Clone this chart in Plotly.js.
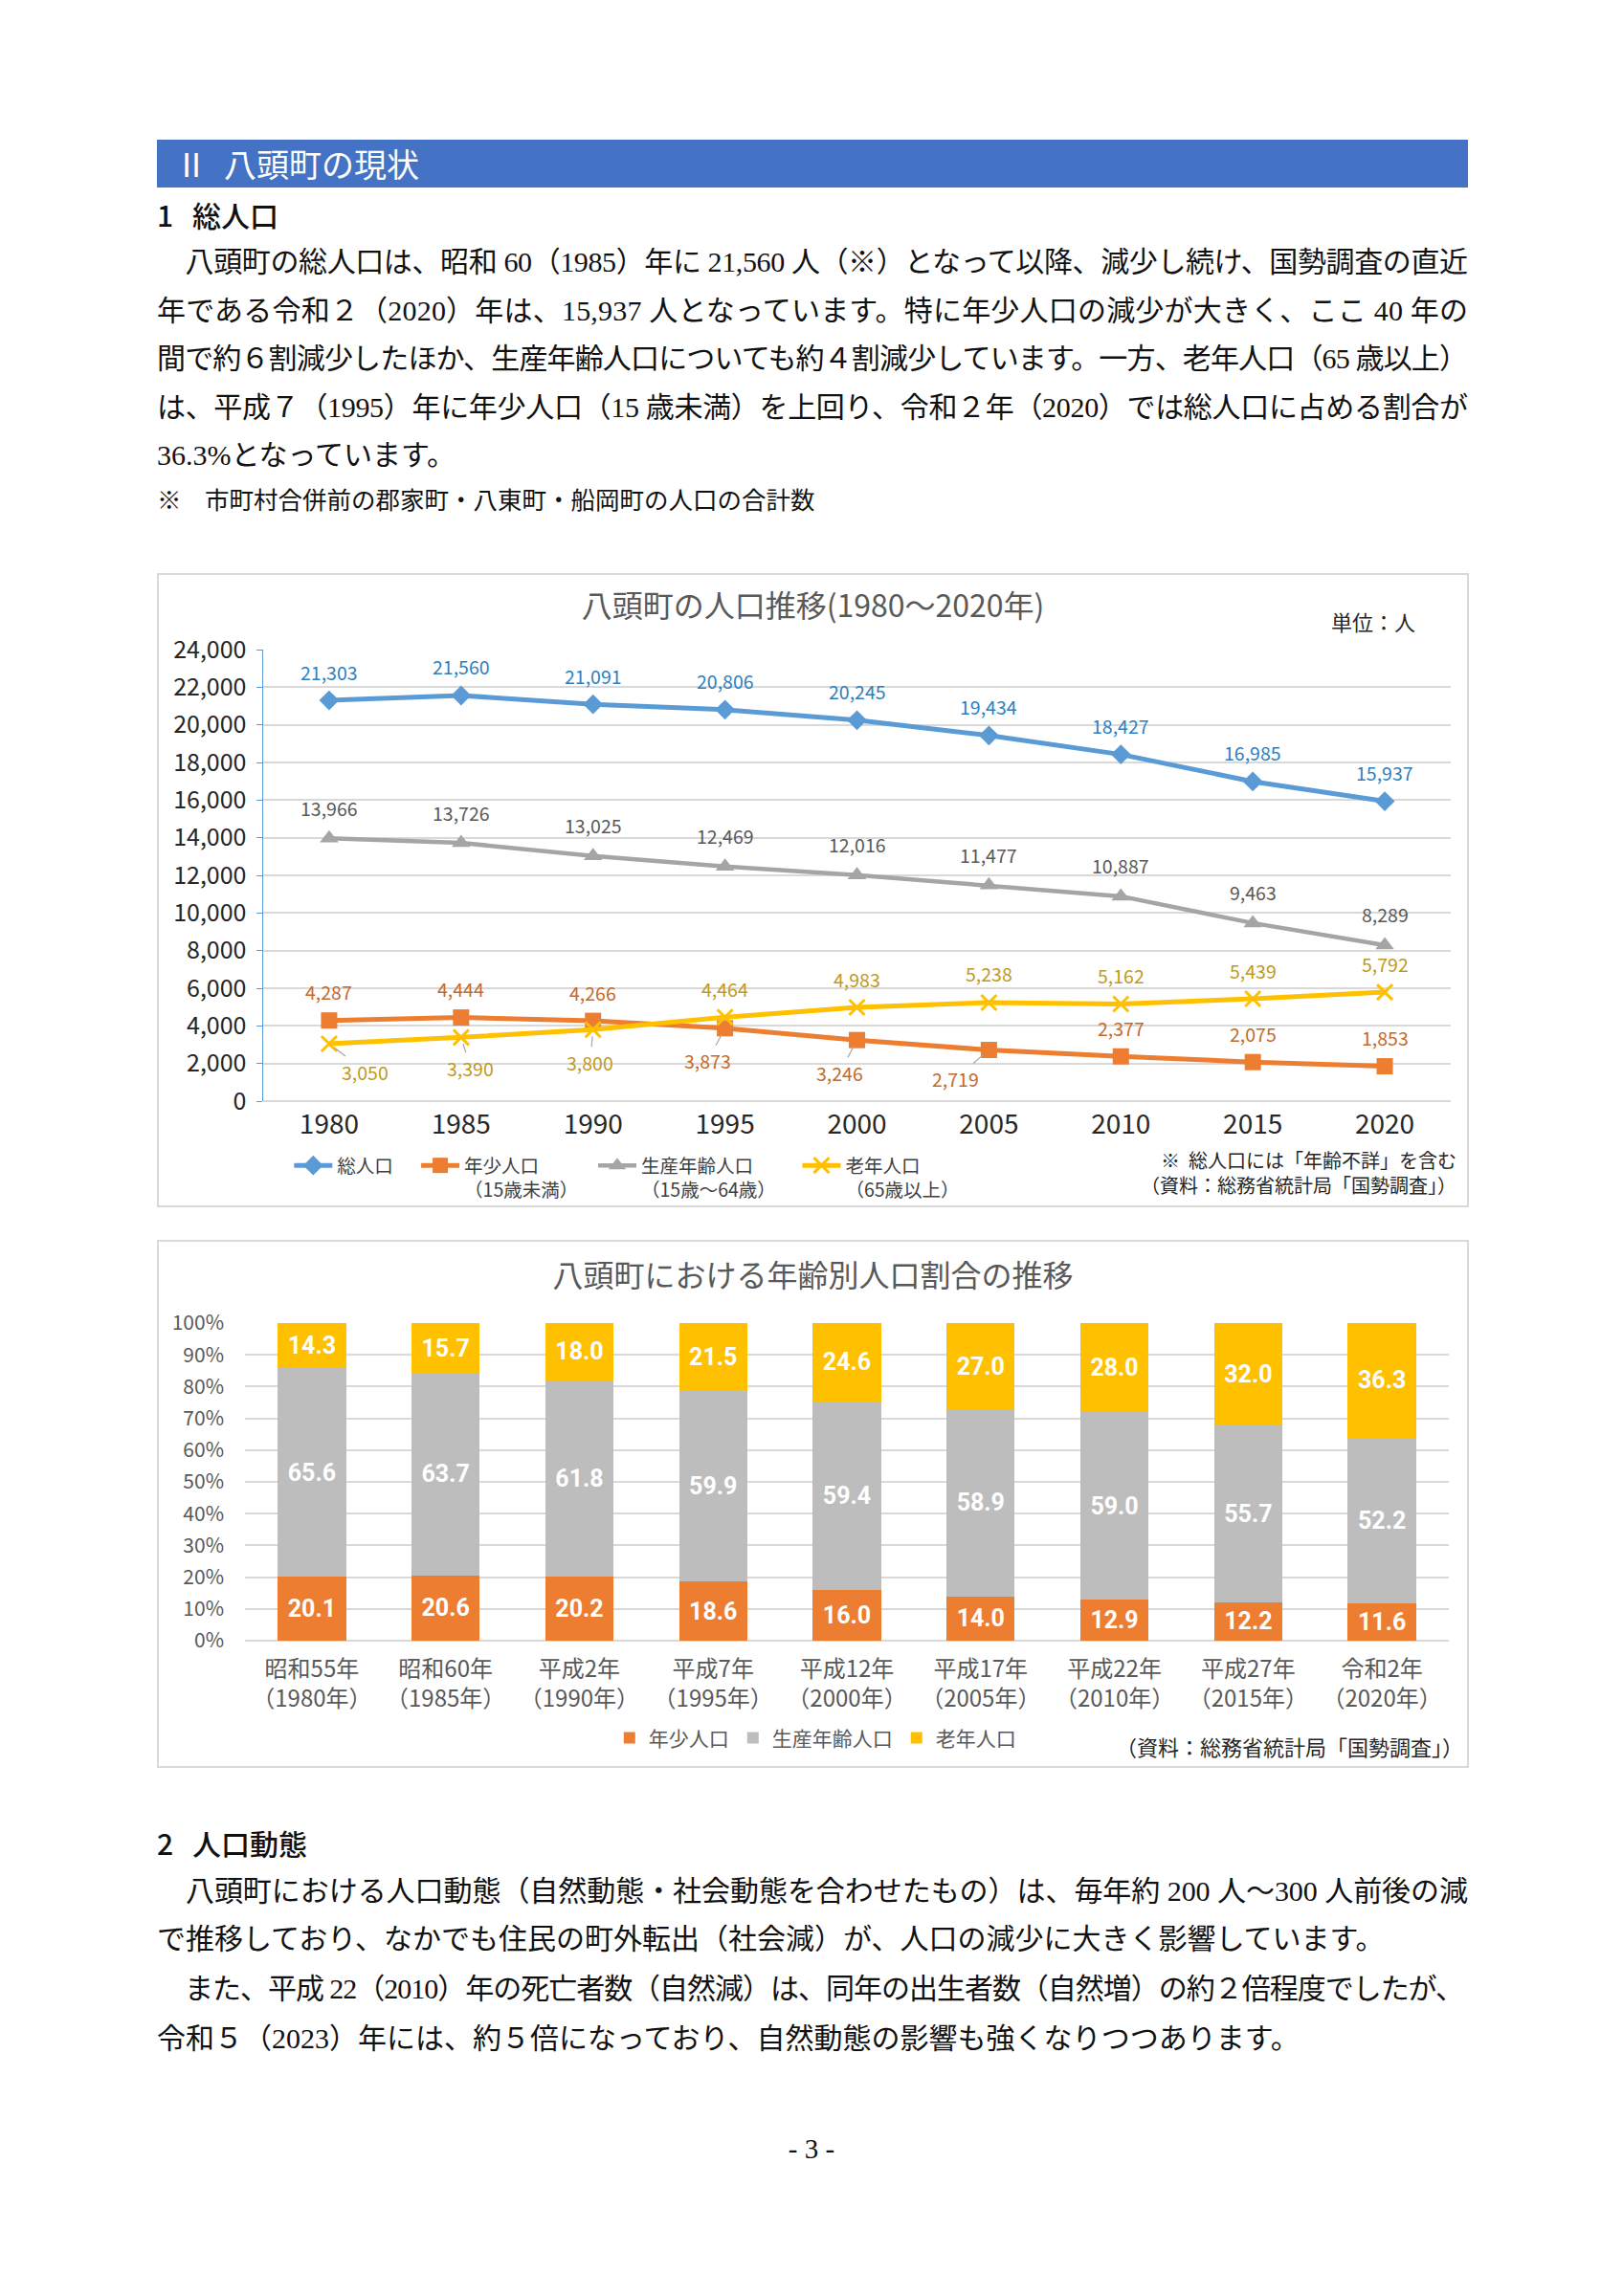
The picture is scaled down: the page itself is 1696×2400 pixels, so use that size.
<!DOCTYPE html>
<html><head><meta charset="utf-8">
<script src="https://cdn.plot.ly/plotly-3.0.1.min.js"></script>
<style>
html,body{margin:0;padding:0;background:#fff;}
body{width:1696px;height:2400px;position:relative;overflow:hidden;font-family:"Liberation Serif","Noto Sans CJK JP",serif;color:#111;}
.abs{position:absolute;white-space:nowrap;}
.hbar{left:164px;top:146px;width:1370px;height:50px;background:#4472C4;}
.htx{color:#fff;font-family:"Noto Sans CJK JP",sans-serif;font-size:34px;line-height:34px;}
.head{font-family:"Noto Sans CJK JP",sans-serif;font-size:30px;line-height:30px;font-weight:500;}
.ln{left:164px;font-size:30px;line-height:30px;}
.note{font-size:25.5px;line-height:26px;}
.box{border:2px solid #D9D9D9;box-sizing:border-box;background:#fff;}
.pn{left:0;width:1696px;text-align:center;font-size:29px;line-height:29px;}
</style>
</head><body>
<div class="abs hbar"></div>
<div class="abs htx" style="left:183px;top:154px;">Ⅱ</div>
<div class="abs htx" style="left:234px;top:154px;">八頭町の現状</div>

<div class="abs head" style="left:164px;top:209px;">1</div>
<div class="abs head" style="left:201px;top:209px;">総人口</div>
<div class="abs ln just" style="top:259px;">　八頭町の総人口は、昭和 60（1985）年に 21,560 人（※）となって以降、減少し続け、国勢調査の直近</div>
<div class="abs ln just" style="top:310px;">年である令和２（2020）年は、15,937 人となっています。特に年少人口の減少が大きく、ここ 40 年の</div>
<div class="abs ln just" style="top:360px;">間で約６割減少したほか、生産年齢人口についても約４割減少しています。一方、老年人口（65 歳以上）</div>
<div class="abs ln just" style="top:411px;">は、平成７（1995）年に年少人口（15 歳未満）を上回り、令和２年（2020）では総人口に占める割合が</div>
<div class="abs ln" style="top:461px;">36.3%となっています。</div>
<div class="abs note" style="left:164px;top:511px;">※</div>
<div class="abs note" style="left:214px;top:511px;">市町村合併前の郡家町・八東町・船岡町の人口の合計数</div>

<div class="abs box" style="left:164px;top:599px;width:1371px;height:663px;"><div id="c1" style="width:1367px;height:659px;"></div></div>
<div class="abs box" style="left:164px;top:1296px;width:1371px;height:552px;"><div id="c2" style="width:1367px;height:548px;"></div></div>

<div class="abs head" style="left:164px;top:1911px;">2</div>
<div class="abs head" style="left:201px;top:1911px;">人口動態</div>
<div class="abs ln just" style="top:1962px;">　八頭町における人口動態（自然動態・社会動態を合わせたもの）は、毎年約 200 人～300 人前後の減</div>
<div class="abs ln" style="top:2012px;">で推移しており、なかでも住民の町外転出（社会減）が、人口の減少に大きく影響しています。</div>
<div class="abs ln just" data-w="1366" style="top:2064px;">　また、平成 22（2010）年の死亡者数（自然減）は、同年の出生者数（自然増）の約２倍程度でしたが、</div>
<div class="abs ln" style="top:2116px;">令和５（2023）年には、約５倍になっており、自然動態の影響も強くなりつつあります。</div>
<div class="abs pn" style="top:2232px;">- 3 -</div>

<script>
// ---------- Chart 1 data ----------
const years = ['1980','1985','1990','1995','2000','2005','2010','2015','2020'];
const totalPop   = [21303, 21560, 21091, 20806, 20245, 19434, 18427, 16985, 15937];
const workingPop = [13966, 13726, 13025, 12469, 12016, 11477, 10887, 9463, 8289];
const youngPop   = [4287, 4444, 4266, 3873, 3246, 2719, 2377, 2075, 1853];
const elderlyPop = [3050, 3390, 3800, 4464, 4983, 5238, 5162, 5439, 5792];
const seriesNames = ['総人口', '年少人口<br>（15歳未満）', '生産年齢人口<br>（15歳～64歳）', '老年人口<br>（65歳以上）'];
const yTicks = [0,2000,4000,6000,8000,10000,12000,14000,16000,18000,20000,22000,24000];

// ---------- Chart 2 data ----------
const eraLabels = ['昭和55年<br>（1980年）','昭和60年<br>（1985年）','平成2年<br>（1990年）','平成7年<br>（1995年）','平成12年<br>（2000年）','平成17年<br>（2005年）','平成22年<br>（2010年）','平成27年<br>（2015年）','令和2年<br>（2020年）'];
const youngPct   = [20.1, 20.6, 20.2, 18.6, 16.0, 14.0, 12.9, 12.2, 11.6];
const workingPct = [65.6, 63.7, 61.8, 59.9, 59.4, 58.9, 59.0, 55.7, 52.2];
const elderlyPct = [14.3, 15.7, 18.0, 21.5, 24.6, 27.0, 28.0, 32.0, 36.3];
const barNames = ['年少人口', '生産年齢人口', '老年人口'];

// label offsets (pixels) and leader flags
const above = [0,-30];
const totalOff   = years.map(()=>above);
const workingOff = years.map(()=>[0,-32]);
const youngOff   = [above, above, above, [-18,34], [-18,34], [-35,30], above, above, above];
const youngLead  = [0,0,0,1,1,1,0,0,0];
const elderlyOff = [[38,29],[10,32],[-3,34], above, above, above, above, above, above];
const elderlyLead= [1,1,1,0,0,0,0,0,0];

const FONT = '"Noto Sans CJK JP", "Open Sans", sans-serif';
const C = {blue:'#5B9BD5', orange:'#ED7D31', grey:'#A5A5A5', yellow:'#FFC000'};
const LC = {blue:'#2F7FBF', orange:'#C46A2C', grey:'#595959', yellow:'#BF9A1E'};

function labelAnns(vals, offs, leads, color){
  return vals.map((v,i)=>({
    x: i, y: v, xref:'x', yref:'y',
    text: v.toLocaleString('en-US'),
    showarrow: true, arrowhead: 0, arrowwidth: 1.2,
    arrowcolor: leads && leads[i] ? '#A6A6A6' : 'rgba(0,0,0,0)',
    standoff: 7,
    ax: offs[i][0], ay: offs[i][1],
    font: {family: FONT, size: 19.5, color: color}
  }));
}

const legKeys = ['legend','legend2','legend3','legend4'];
const t1 = [
  {name: seriesNames[0], x: years, y: totalPop, type:'scatter', mode:'lines+markers', legend: legKeys[0],
   line:{color:C.blue, width:5}, marker:{symbol:'diamond', size:16, color:C.blue}},
  {name: seriesNames[1], x: years, y: youngPop, type:'scatter', mode:'lines+markers', legend: legKeys[1],
   line:{color:C.orange, width:5}, marker:{symbol:'square', size:17, color:C.orange}},
  {name: seriesNames[2], x: years, y: workingPop, type:'scatter', mode:'lines+markers', legend: legKeys[2],
   line:{color:C.grey, width:4.5}, marker:{symbol:'triangle-up', size:17, color:C.grey}},
  {name: seriesNames[3], x: years, y: elderlyPop, type:'scatter', mode:'lines+markers', legend: legKeys[3],
   line:{color:C.yellow, width:5}, marker:{symbol:'x-thin', size:16, line:{color:C.yellow, width:3}, color:C.yellow}}
];

const ann1 = [].concat(
  labelAnns(totalPop, totalOff, null, LC.blue),
  labelAnns(workingPop, workingOff, null, LC.grey),
  labelAnns(youngPop, youngOff, youngLead, LC.orange),
  labelAnns(elderlyPop, elderlyOff, elderlyLead, LC.yellow),
  [
    {xref:'paper', yref:'paper', x:0.935, y:1.064, xanchor:'center', yanchor:'middle', text:'単位：人', showarrow:false,
     font:{family:FONT, size:22, color:'#262626'}},
    {xref:'paper', yref:'paper', x:1.0065, y:-0.158, xanchor:'right', yanchor:'middle', align:'right',
     text:'※  総人口には「年齢不詳」を含む<br>（資料：総務省統計局「国勢調査」）', showarrow:false,
     font:{family:FONT, size:20, color:'#262626'}}
  ]
);

function leg(x){
  return {orientation:'h', x:x, xref:'paper', xanchor:'left', y:0.0926, yref:'container', yanchor:'top', valign:'top',
          font:{family:FONT, size:19.5, color:'#404040'}, itemwidth:40, bgcolor:'rgba(0,0,0,0)'};
}
const legX = [0.022, 0.129, 0.278, 0.450];

const l1 = {
  width:1367, height:659,
  margin:{l:109, r:17, t:78, b:109, autoexpand:false},
  paper_bgcolor:'#fff', plot_bgcolor:'#fff',
  font:{family:FONT, color:'#404040'},
  title:{text:'八頭町の人口推移(1980～2020年)', x:0.5, xref:'container', xanchor:'center',
         y:0.95, yref:'container', yanchor:'middle', font:{family:FONT, size:32, color:'#595959'}},
  showlegend:true,
  legend: leg(legX[0]), legend2: leg(legX[1]), legend3: leg(legX[2]), legend4: leg(legX[3]),
  xaxis:{type:'category', categoryorder:'array', categoryarray:years, range:[-0.5, 8.5], autorange:false,
         showgrid:false, zeroline:false, showline:false, ticks:'',
         tickfont:{family:FONT, size:28, color:'#262626'}, ticklabelstandoff:5, fixedrange:true},
  yaxis:{range:[0,24000], autorange:false, tickvals:yTicks, ticktext:yTicks.map(v=>v.toLocaleString('en-US')),
         showgrid:true, gridcolor:'#D9D9D9', gridwidth:2, zeroline:true, zerolinecolor:'#D9D9D9', zerolinewidth:2,
         showline:true, linecolor:C.blue, linewidth:1.5, ticks:'outside', ticklen:6, tickcolor:C.blue,
         tickfont:{family:FONT, size:25, color:'#262626'}, ticklabelstandoff:5, fixedrange:true},
  annotations: ann1
};

Plotly.newPlot('c1', t1, l1, {staticPlot:true, displayModeBar:false});

// ---------- Chart 2 ----------
const bcol = [C.orange, '#BDBDBD', C.yellow];
const t2 = [youngPct, workingPct, elderlyPct].map((vals,k)=>({
  name: barNames[k], type:'bar', x: eraLabels, y: vals,
  marker:{color: bcol[k]},
  text: vals.map(v=>v.toFixed(1)), textposition:'inside', insidetextanchor:'middle',
  textangle:0, constraintext:'none',
  textfont:{family:'Roboto, "Open Sans", sans-serif', size:25, color:'#fff', weight:700},
  hoverinfo:'skip'
}));

const l2 = {
  width:1367, height:548,
  margin:{l:90, r:19, t:85, b:131, autoexpand:false},
  paper_bgcolor:'#fff', plot_bgcolor:'#fff',
  barmode:'stack', bargap:0.49,
  font:{family:FONT, color:'#595959'},
  title:{text:'八頭町における年齢別人口割合の推移', x:0.5, xref:'container', xanchor:'center',
         y:0.934, yref:'container', yanchor:'middle', font:{family:FONT, size:32, color:'#595959'}},
  showlegend:true,
  legend:{orientation:'h', x:0.474, xref:'paper', xanchor:'center', y:0.053, yref:'container', yanchor:'middle', traceorder:'normal',
          font:{family:FONT, size:21, color:'#595959'}, itemwidth:30, bgcolor:'rgba(0,0,0,0)'},
  xaxis:{type:'category', showgrid:false, zeroline:false, showline:false, ticks:'',
         tickfont:{family:FONT, size:24, color:'#595959'}, ticklabelstandoff:13, fixedrange:true},
  yaxis:{range:[0,100], autorange:false, dtick:10, ticksuffix:'%', showgrid:true, gridcolor:'#D9D9D9', gridwidth:2,
         zeroline:true, zerolinecolor:'#D9D9D9', zerolinewidth:2, showline:false, ticks:'',
         tickfont:{family:FONT, size:21, color:'#595959'}, ticklabelstandoff:21, fixedrange:true},
  annotations:[
    {xref:'paper', yref:'paper', x:1.0135, y:-0.331, xanchor:'right', yanchor:'middle',
     text:'（資料：総務省統計局「国勢調査」）', showarrow:false, font:{family:FONT, size:22, color:'#262626'}}
  ]
};

Plotly.newPlot('c2', t2, l2, {staticPlot:true, displayModeBar:false});

// ---------- justify text lines ----------
function justify(){
  document.querySelectorAll('.just').forEach(el=>{
    const target = parseFloat(el.dataset.w || 1370);
    el.style.letterSpacing = '0px';
    const txt = el.textContent;
    el.innerHTML = '<span>' + txt + '</span>';
    const w = el.firstChild.getBoundingClientRect().width;
    const n = [...txt].length;
    const ls = (target - w) / (n - 1);
    el.style.letterSpacing = ls + 'px';
  });
}
justify();
if (document.fonts && document.fonts.ready) document.fonts.ready.then(justify);
</script>
</body></html>
